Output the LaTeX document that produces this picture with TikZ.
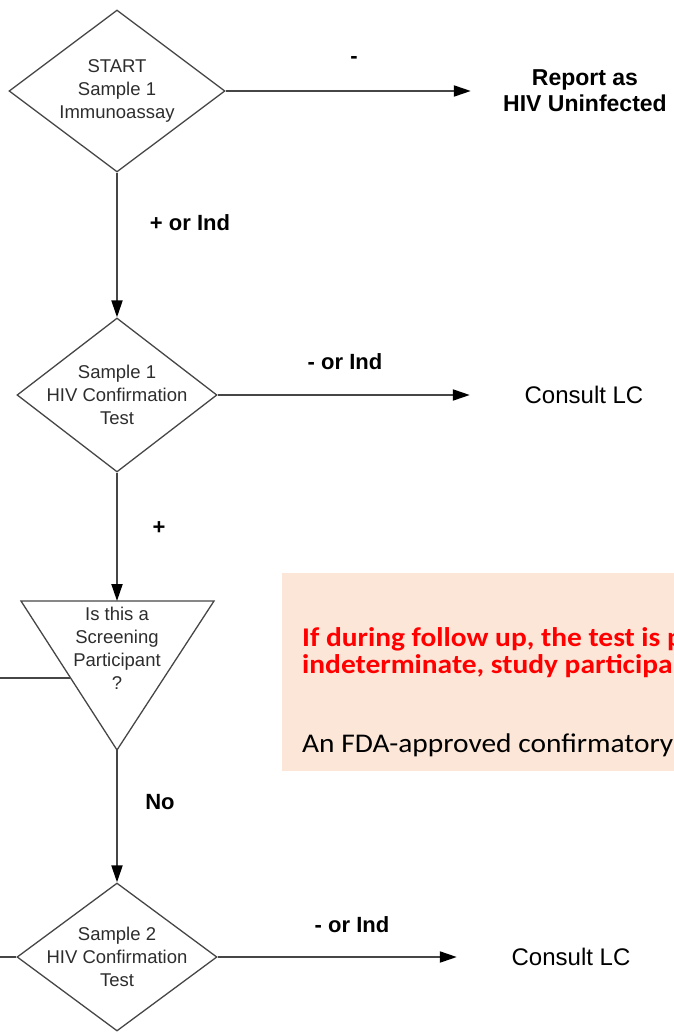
\documentclass[tikz,border=0pt]{standalone}
\usepackage{fontspec}
\setmainfont{Liberation Sans}
\newfontfamily\notefont{Carlito}
\usetikzlibrary{shapes.geometric,arrows.meta}

\definecolor{flowline}{RGB}{70,70,70}
\definecolor{notefill}{RGB}{251,230,216}
\definecolor{notered}{RGB}{255,0,0}

\newcommand{\notewide}[1]{\scalebox{1.09}[1]{#1}}

\begin{document}
\begin{tikzpicture}[x=1pt,y=-1pt,
	decision/.style={draw=flowline, line width=1.3pt, diamond, inner sep=0pt},
	shapeline/.style={draw=flowline, line width=1.3pt, line join=miter},
	dtext/.style={font=\fontsize{18.5}{23}\selectfont, align=center, text={rgb,255:red,45;green,45;blue,45}},
	flow/.style={draw=flowline, line width=2pt, -{Triangle[length=17pt,width=11pt,color=black]}},
	plain/.style={draw=flowline, line width=2pt},
	edgetext/.style={font=\bfseries\fontsize{22}{26}\selectfont, inner sep=0pt},
	outcome/.style={minimum width=228pt, align=center, inner sep=0pt},
	notebox/.style={fill=notefill, inner sep=0pt},
	notetext/.style={font=\notefont\fontsize{27}{27}\selectfont, anchor=base west, inner sep=0pt},
	notewarn/.style={notetext, text=notered, font=\notefont\bfseries\fontsize{27}{27}\selectfont}
	]
	\useasboundingbox (0,0) rectangle (673,1032);
	
	\node [notebox,
	anchor=north west,
	minimum width=420pt,
	minimum height=198pt] (note) at (282,573) {};
	
	\node [decision,
	minimum width=216pt,
	minimum height=162pt,
	label={[dtext]center:{START\\Sample 1\\Immunoassay}}] (imm) at (117,91) {};
	
	\node [decision,
	minimum width=200pt,
	minimum height=154pt,
	label={[dtext]center:{Sample 1\\HIV Confirmation\\Test}}] (conf1) at (117,395) {};
	
	\coordinate (scrL) at (21,601);
	\coordinate (scrR) at (214,601);
	\coordinate (scrB) at (117,750);
	\coordinate (scrT) at (117,601);
	\coordinate (scrIn) at (70,678);
	\draw [shapeline] (scrL) -- (scrR) -- (scrB) -- cycle;
	\node [dtext] (scr) at (117,648) {Is this a\\Screening\\Participant\\?};
	
	\node [decision,
	minimum width=200pt,
	minimum height=148pt,
	label={[dtext]center:{Sample 2\\HIV Confirmation\\Test}}] (conf2) at (117,957) {};
	
	\node [outcome, font=\bfseries\fontsize{23}{26}\selectfont] (rep) at (585,91) {Report as\\HIV Uninfected};
	\node [outcome, font=\fontsize{24}{28}\selectfont] (lcA) at (584,395) {Consult LC};
	\node [outcome, font=\fontsize{24}{28}\selectfont] (lcB) at (571,957) {Consult LC};
	
	\coordinate (offA) at (0,678);
	\coordinate (offB) at (0,957);
	
	\draw [flow] (imm) -- (rep);
	\draw [flow] (imm) -- (conf1);
	\draw [flow] (conf1) -- (lcA);
	\draw [flow] (conf1) -- (scrT);
	\draw [flow] (scrB) -- (conf2);
	\draw [flow] (conf2) -- (lcB);
	\draw [plain] (offA) -- (scrIn);
	\draw [plain] (offB) -- (conf2.west);
	
	\node [edgetext] (negA) at (354,60) {-};
	\node [edgetext] (posA) at (190,223) {+ or Ind};
	\node [edgetext] (negB) at (345,362) {- or Ind};
	\node [edgetext] (posB) at (159,528) {+};
	\node [edgetext] (noC) at (160,802) {No};
	\node [edgetext] (negC) at (352,925) {- or Ind};
	
	\node [notewarn] (noteA) at (302,646) {\notewide{If during follow up, the test is p}};
	\node [notewarn] (noteB) at (302,673) {\notewide{indeterminate, study participa}};
	\node [notetext] (noteC) at (302,752) {\notewide{An FDA-approved confirmatory}};
\end{tikzpicture}
\end{document}
